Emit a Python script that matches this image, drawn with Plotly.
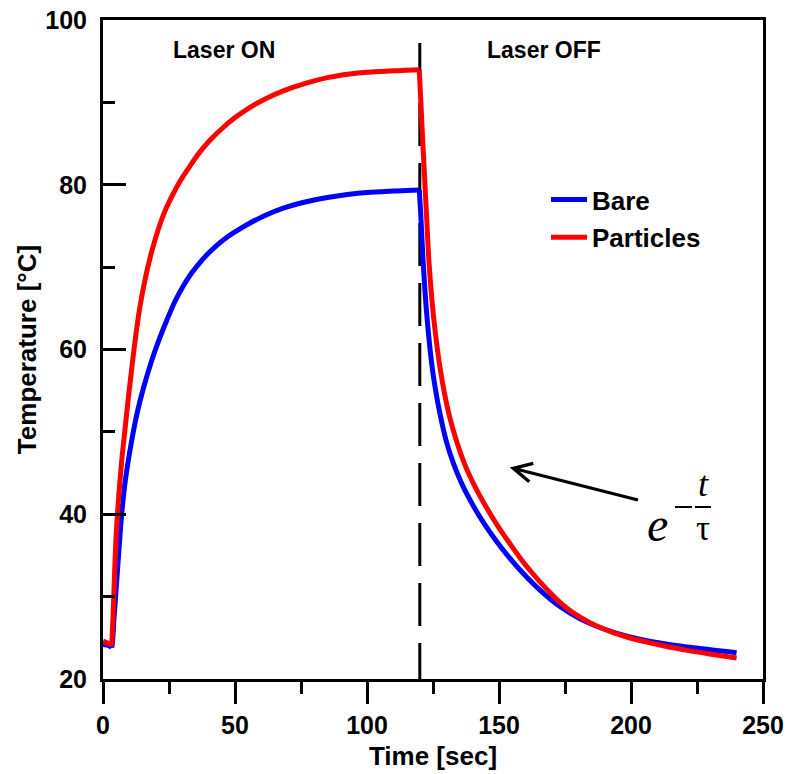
import plotly.graph_objects as go

# ---------------- data ----------------
bare_time = [0, 1, 2, 3, 3.3, 3.6, 4.2, 5.0, 6.0, 7.1, 8.5, 10.9, 13.0, 15.3, 18.7, 21.6,
             24.1, 27.2, 30.4, 33.5, 36.7, 40.0, 43.1, 46.2, 49.4, 55.7, 62.0, 68.3, 74.6,
             80, 85, 90, 95, 100, 105, 110, 115, 119.8,
             120.3, 120.8, 121.3, 122.6, 124.5, 126.0, 127.7, 130.0, 132.7, 136.2, 140.3,
             144.5, 149.1, 154.0, 159.2, 165.5, 173.1, 180.7, 189.5, 198.4, 208.5, 218.6,
             228.7, 238.8, 240]
bare_temp = [24.2, 24.2, 24.1, 23.9, 23.8, 24.5, 27.5, 31.0, 35.5, 40.1, 44.2, 49.0, 52.4, 55.3,
             58.9, 61.5, 63.5, 65.8, 67.7, 69.25, 70.55, 71.7, 72.65, 73.45, 74.15, 75.35, 76.35,
             77.15, 77.75, 78.15, 78.45, 78.7, 78.9, 79.05, 79.15, 79.25, 79.3, 79.35,
             76.8, 73.6, 70.5, 64.4, 58.3, 55.0, 52.1, 48.9, 46.2, 43.5, 41.0,
             38.8, 36.7, 34.7, 32.8, 30.8, 28.8, 27.3, 26.1, 25.2, 24.5, 24.0,
             23.6, 23.25, 23.2]

particles_time = [0, 1, 2, 3, 3.3, 3.8, 4.4, 5.0, 5.8, 7.0, 8.3, 9.6, 11.0, 12.5, 14.0, 16.0,
                  17.8, 19.7, 21.6, 24.0, 26.6, 29.5, 33.0, 36.5, 40.5, 45.0, 49.4, 55.7, 62.0,
                  68.3, 74.6, 80, 85, 90, 95, 100, 105, 110, 115, 119.8,
                  120.4, 121.0, 121.8, 122.6, 123.4, 124.3, 125.3, 126.4, 127.7, 129.4, 131.4,
                  134.0, 137.1, 141.0, 145.3, 149.5, 154.2, 158.0, 161.7, 165.5, 169.0, 173.1,
                  176.5, 180.7, 185.0, 189.5, 194.0, 198.4, 203.0, 208.5, 213.5, 218.6, 223.5,
                  228.7, 233.5, 238.8, 240]
particles_temp = [24.6, 24.5, 24.4, 24.2, 24.0, 27.5, 33.0, 37.5, 41.5, 46.2, 50.2, 54.1, 58.0,
                  61.9, 65.2, 68.6, 71.1, 73.3, 75.2, 77.2, 78.9, 80.6, 82.3, 83.9, 85.4, 86.8,
                  88.0, 89.4, 90.5, 91.4, 92.1, 92.6, 93.0, 93.3, 93.5, 93.65, 93.75, 93.83, 93.9,
                  93.95,
                  90.0, 86.0, 81.0, 76.0, 71.0, 67.1, 63.7, 60.7, 57.7, 54.6, 51.7,
                  48.8, 46.0, 43.3, 40.8, 38.6, 36.4, 34.7, 33.2, 31.8, 30.6, 29.3,
                  28.4, 27.5, 26.75, 26.1, 25.55, 25.1, 24.7, 24.3, 23.95, 23.65, 23.35,
                  23.1, 22.85, 22.6, 22.55]

series_names = ["Bare", "Particles"]
series_colors = ["#0000ff", "#ff0000"]
onset_time = 3.3          # laser switched on (curves start rising)
peak_time = 119.8         # last sample before cooling
laser_off_time = 120
dash_top = 97.2
x_ticks = [0, 50, 100, 150, 200, 250]
y_ticks = [20, 40, 60, 80, 100]
phase_labels = ["Laser ON", "Laser OFF"]
phase_label_x = [46, 167.2]
phase_label_y = 96.3

# ---------------- figure ----------------
W, H = 786, 774
L, R, T, B = 103, 23, 20, 95
pw, ph = W - L - R, H - T - B


def px(x):
    return (x - L) / pw


def py(y):
    return (H - B - y) / ph


SANS = "Liberation Sans"
SERIF = "Liberation Serif"

fig = go.Figure()
for name, tt, yy, col in zip(series_names, [bare_time, particles_time],
                             [bare_temp, particles_temp], series_colors):
    i_on = tt.index(onset_time)
    i_pk = tt.index(peak_time)
    pieces = [(0, i_on, "linear"), (i_on, i_pk, "spline"), (i_pk, len(tt) - 1, "spline")]
    for k, (a, b, shape) in enumerate(pieces):
        fig.add_trace(go.Scatter(x=tt[a:b + 1], y=yy[a:b + 1], mode="lines", name=name,
                                 legendgroup=name, showlegend=(k == 1),
                                 line=dict(color=col, width=5, shape=shape, smoothing=1.0)))

shapes = [
    dict(type="line", xref="x", yref="y", x0=laser_off_time, x1=laser_off_time,
         y0=dash_top, y1=20, layer="below",
         line=dict(color="black", width=3, dash="43px,17px")),
    # arrow (shaft + open chevron head)
    dict(type="path", xref="paper", yref="paper",
         path=f"M{px(638)},{py(500)} L{px(514)},{py(468.5)} "
              f"M{px(533.3)},{py(463.3)} L{px(513.3)},{py(468.3)} L{px(529.3)},{py(481.7)}",
         line=dict(color="black", width=3.3)),
    # minus sign and fraction bar of e^{-t/tau}
    dict(type="line", xref="paper", yref="paper", x0=px(675), x1=px(692), y0=py(507), y1=py(507),
         line=dict(color="black", width=2)),
    dict(type="line", xref="paper", yref="paper", x0=px(695), x1=px(711), y0=py(507), y1=py(507),
         line=dict(color="black", width=2)),
]

annotations = []
for lab, lx in zip(phase_labels, phase_label_x):
    annotations.append(dict(x=lx, y=phase_label_y, xref="x", yref="y", text=lab, showarrow=False,
                            xanchor="center", yanchor="middle",
                            font=dict(family=SANS, size=23, color="black", weight="bold")))
annotations += [
    dict(x=px(657.5), y=py(524), xref="paper", yref="paper", text="e", showarrow=False,
         xanchor="center", yanchor="middle",
         font=dict(family=SERIF, size=48, color="black", style="italic")),
    dict(x=px(703.5), y=py(505), xref="paper", yref="paper", text="t", showarrow=False,
         xanchor="center", yanchor="bottom", borderpad=0,
         font=dict(family=SERIF, size=36, color="black", style="italic")),
    dict(x=px(703), y=py(508), xref="paper", yref="paper", text="τ", showarrow=False,
         xanchor="center", yanchor="top", borderpad=0,
         font=dict(family=SERIF, size=35, color="black")),
]

axis_common = dict(showline=True, linewidth=3, linecolor="black", mirror=True,
                   showgrid=False, zeroline=False, tickwidth=3, tickcolor="black",
                   tickfont=dict(family=SANS, size=25, color="black", weight="bold"))

fig.update_layout(
    width=W, height=H, margin=dict(l=L, r=R, t=T, b=B, autoexpand=False),
    paper_bgcolor="white", plot_bgcolor="white",
    shapes=shapes, annotations=annotations,
    showlegend=True,
    legend=dict(x=px(546), y=py(176), xanchor="left", yanchor="top", itemwidth=36,
                bgcolor="rgba(0,0,0,0)", traceorder="grouped", tracegroupgap=1,
                font=dict(family=SANS, size=26, color="black", weight="bold")),
    xaxis=dict(range=[0, 250], tickvals=x_ticks, ticks="outside", ticklen=22,
               minor=dict(ticks="outside", ticklen=12, dtick=25, tickwidth=3, tickcolor="black"),
               title=dict(text="Time [sec]", standoff=9,
                          font=dict(family=SANS, size=26, color="black", weight="bold")),
               **axis_common),
    yaxis=dict(range=[20, 100], tickvals=y_ticks, ticks="inside", ticklen=23,
               ticklabelstandoff=8,
               minor=dict(ticks="inside", ticklen=12, dtick=10, tickwidth=3, tickcolor="black"),
               title=dict(text="Temperature [°C]", standoff=2,
                          font=dict(family=SANS, size=26, color="black", weight="bold")),
               **axis_common),
)

fig.write_html("out.html")
